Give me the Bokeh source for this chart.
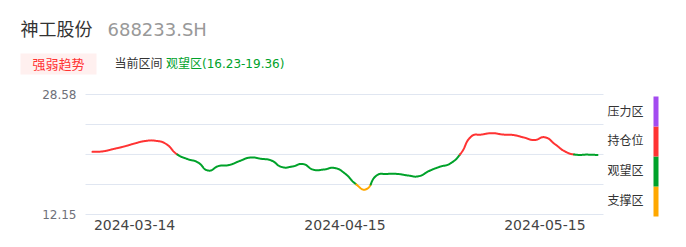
import numpy as np
from bokeh.plotting import figure
from bokeh.models import Range1d, FixedTicker, Label, BoxAnnotation, ColumnDataSource
from bokeh.embed import file_html
from bokeh.resources import INLINE

# ---------------- data ----------------
stock_name = "神工股份"
stock_code = "688233.SH"
badge_text = "强弱趋势"
current_label = "当前区间"
current_zone = "观望区(16.23-19.36)"

dates = [
    "2024-03-08", "2024-03-11", "2024-03-12", "2024-03-13", "2024-03-14",
    "2024-03-15", "2024-03-18", "2024-03-19", "2024-03-20", "2024-03-21",
    "2024-03-22", "2024-03-25", "2024-03-26", "2024-03-27", "2024-03-28",
    "2024-03-29", "2024-04-01", "2024-04-02", "2024-04-03", "2024-04-08",
    "2024-04-09", "2024-04-10", "2024-04-11", "2024-04-12", "2024-04-15",
    "2024-04-16", "2024-04-17", "2024-04-18", "2024-04-19", "2024-04-22",
    "2024-04-23", "2024-04-24", "2024-04-25", "2024-04-26", "2024-04-29",
    "2024-04-30", "2024-05-06", "2024-05-07", "2024-05-08", "2024-05-09",
    "2024-05-10", "2024-05-13", "2024-05-14", "2024-05-15", "2024-05-16",
    "2024-05-17", "2024-05-20", "2024-05-21", "2024-05-22",
]
prices = [
    20.73, 20.80, 21.12, 21.46, 21.87, 22.21, 22.24, 21.80, 20.43, 19.75,
    19.30, 18.17, 18.79, 18.93, 19.48, 19.95, 19.78, 19.54, 18.65, 18.72,
    19.06, 18.28, 18.31, 18.52, 17.76, 16.35, 15.60, 17.49, 17.70, 17.70,
    17.49, 17.39, 18.11, 18.68, 19.13, 20.50, 22.83, 23.10, 23.28, 23.10,
    23.03, 22.69, 22.35, 22.72, 21.73, 20.71, 20.33, 20.35, 20.30,
]
tick_dates = ["2024-03-14", "2024-04-15", "2024-05-15"]
y_min, y_max = 12.15, 28.58
y_label_ticks = [12.15, 28.58]
y_label_texts = ["12.15", "28.58"]
grid_ticks = [12.15, 16.26, 20.37, 24.47, 28.58]
zone_names = ["支撑区", "观望区", "持仓位", "压力区"]
zone_colors = ["#ffa800", "#00a22a", "#ff3333", "#a34bf0"]
zone_edges = [12.15, 16.26, 20.37, 24.47, 28.58]

# ---------------- layout (pixels) ----------------
W, H = 686, 247
FL, FR, FT, FB = 85, 603, 94, 214
X0, X1 = 92, 597
FONT = "'DejaVu Sans', 'Noto Sans CJK SC', sans-serif"

n = len(prices)
dx = (X1 - X0) / (n - 1)
ppu = (FB - FT) / (y_max - y_min)


def px_x(X):
    return (X - X0) / dx


def px_y(Y):
    return y_max - (Y - FT) / ppu


def smooth_curve(xs, ys, smooth=0.5, steps=30):
    # bezier smoothing in pixel space (echarts-like)
    P = np.column_stack([X0 + np.asarray(xs) * dx, FB - (np.asarray(ys) - y_min) * ppu])
    m = len(P)
    out = [P[0]]
    for i in range(m - 1):
        p0, p1 = P[i], P[i + 1]
        prev = P[i - 1] if i > 0 else P[i]
        nxt = P[i + 2] if i + 2 < m else P[i + 1]
        da, db = np.linalg.norm(p0 - prev), np.linalg.norm(p1 - p0)
        r = db / (da + db) if (da + db) else 0.5
        c0 = p0 + (p1 - prev) * smooth * r
        da, db = np.linalg.norm(p1 - p0), np.linalg.norm(nxt - p1)
        r = da / (da + db) if (da + db) else 0.5
        c1 = p1 - (nxt - p0) * smooth * r
        t = np.linspace(0, 1, steps + 1)[1:, None]
        B = (1 - t) ** 3 * p0 + 3 * (1 - t) ** 2 * t * c0 + 3 * (1 - t) * t ** 2 * c1 + t ** 3 * p1
        out.extend(B)
    out = np.array(out)
    return (out[:, 0] - X0) / dx, y_min + (FB - out[:, 1]) / ppu


cx, cy = smooth_curve(np.arange(n), prices)
inner = np.array(zone_edges[1:-1])


def zone_of(v):
    return int(np.searchsorted(inner, v, side="right"))


seg_xs, seg_ys, seg_col = [], [], []
cur_x, cur_y = [cx[0]], [cy[0]]
cur_z = zone_of(cy[0])
for k in range(1, len(cx)):
    z = zone_of(cy[k])
    if z != cur_z:
        thr = inner[min(z, cur_z)]
        t = (thr - cy[k - 1]) / (cy[k] - cy[k - 1])
        xm = cx[k - 1] + t * (cx[k] - cx[k - 1])
        cur_x.append(xm); cur_y.append(thr)
        seg_xs.append(cur_x); seg_ys.append(cur_y); seg_col.append(zone_colors[cur_z])
        cur_x, cur_y, cur_z = [xm], [thr], z
    cur_x.append(cx[k]); cur_y.append(cy[k])
seg_xs.append(cur_x); seg_ys.append(cur_y); seg_col.append(zone_colors[cur_z])

# ---------------- figure (frame = whole canvas) ----------------
p = figure(width=W, height=H,
           x_range=Range1d(px_x(0), px_x(W)), y_range=Range1d(px_y(H), px_y(0)),
           output_backend="svg", toolbar_location=None,
           min_border_left=0, min_border_right=0, min_border_top=0, min_border_bottom=0,
           outline_line_color=None, background_fill_color="white", border_fill_color="white")
p.grid.visible = False

# horizontal grid lines across the chart area
p.segment(x0=px_x(FL), x1=px_x(FR), y0=grid_ticks, y1=grid_ticks,
          line_color="#e0e6f1", line_width=1)

tick_idx = [dates.index(d) for d in tick_dates]
p.xaxis.fixed_location = y_min
p.xaxis.ticker = FixedTicker(ticks=tick_idx)
p.xaxis.major_label_overrides = {i: d for i, d in zip(tick_idx, tick_dates)}
p.xaxis.axis_line_color = None
p.xaxis.major_tick_line_color = None
p.xaxis.minor_tick_line_color = None
p.xaxis.major_tick_out = 0
p.xaxis.major_tick_in = 0
p.xaxis.major_label_standoff = 5
p.xaxis.major_label_text_font = FONT
p.xaxis.major_label_text_font_size = "14px"
p.xaxis.major_label_text_color = "#444444"

p.yaxis.fixed_location = px_x(FL)
p.yaxis.ticker = FixedTicker(ticks=y_label_ticks)
p.yaxis.major_label_overrides = {v: s for v, s in zip(y_label_ticks, y_label_texts)}
p.yaxis.axis_line_color = None
p.yaxis.major_tick_line_color = None
p.yaxis.minor_tick_line_color = None
p.yaxis.major_tick_out = 0
p.yaxis.major_tick_in = 0
p.yaxis.major_label_standoff = 9
p.yaxis.major_label_text_font = FONT
p.yaxis.major_label_text_font_size = "12px"
p.yaxis.major_label_text_color = "#6e7079"

src = ColumnDataSource(dict(xs=seg_xs, ys=seg_ys, color=seg_col))
p.multi_line(xs="xs", ys="ys", line_color="color", line_width=2, line_join="round",
             line_cap="round", source=src)

# header
p.add_layout(Label(x=px_x(20), y=px_y(29), text=stock_name, text_font=FONT, text_font_size="18px",
                   text_color="#333333", text_baseline="middle", text_align="left"))
p.add_layout(Label(x=px_x(107), y=px_y(29), text=stock_code, text_font=FONT, text_font_size="18px",
                   text_color="#999999", text_baseline="middle", text_align="left"))
p.add_layout(BoxAnnotation(left=px_x(20), right=px_x(96), top=px_y(53), bottom=px_y(74),
                           fill_color="#fff0ef", fill_alpha=1, line_color=None))
p.add_layout(Label(x=px_x(58), y=px_y(63.5), text=badge_text, text_font=FONT, text_font_size="13px",
                   text_color="#ff3333", text_baseline="middle", text_align="center"))
p.add_layout(Label(x=px_x(114), y=px_y(63), text=current_label, text_font=FONT, text_font_size="12px",
                   text_color="#333333", text_baseline="middle", text_align="left"))
p.add_layout(Label(x=px_x(165.5), y=px_y(63), text=current_zone, text_font=FONT, text_font_size="12px",
                   text_color=zone_colors[1], text_baseline="middle", text_align="left"))

# zone legend bar on the right
for k, (name, col) in enumerate(zip(zone_names, zone_colors)):
    lo, hi = zone_edges[k], zone_edges[k + 1]
    off = 2 / ppu
    p.add_layout(BoxAnnotation(left=px_x(653), right=px_x(658), top=hi - off, bottom=lo - off,
                               fill_color=col, fill_alpha=1, line_color=None))
    p.add_layout(Label(x=px_x(607), y=(lo + hi) / 2 - off, text=name, text_font=FONT,
                       text_font_size="12px", text_color="#333333", text_baseline="middle",
                       text_align="left"))

open("out.html", "w").write(file_html(p, INLINE))
